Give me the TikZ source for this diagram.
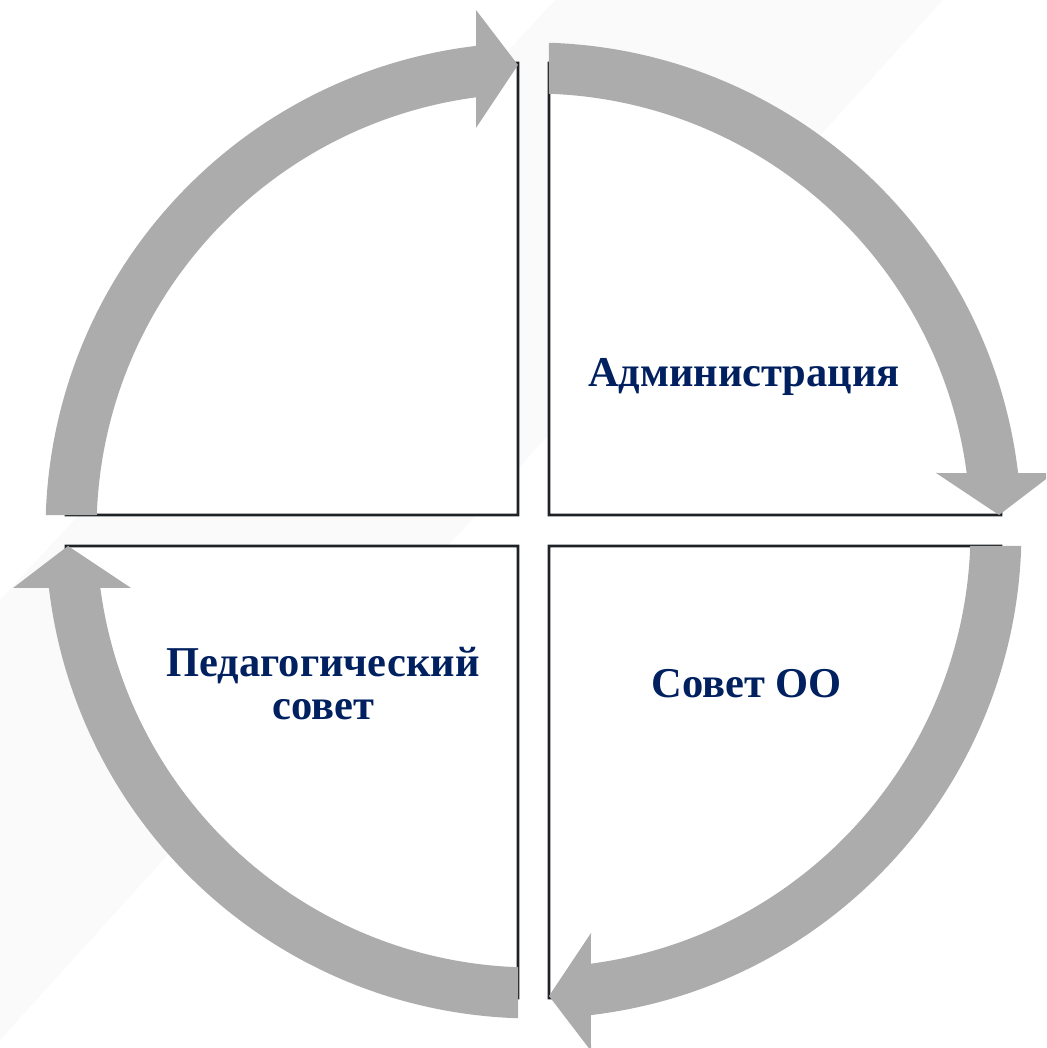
\documentclass[tikz,border=0pt]{standalone}
\usepackage{fontspec}
\setmainfont{Liberation Serif}
\definecolor{arrowgray}{RGB}{171,172,171}
\definecolor{navytext}{RGB}{0,32,96}
\definecolor{edgecol}{RGB}{30,33,37}
\definecolor{bandcol}{RGB}{250,250,250}
\tikzset{
  sector/.style={fill=white, draw=edgecol, line width=2.8pt, line join=miter},
  cyclearrow/.style={fill=arrowgray, draw=none},
  lbl/.style={font=\fontsize{42.5}{43}\selectfont\bfseries, text=navytext, inner sep=0pt, anchor=base}
}
\begin{document}
\begin{tikzpicture}[x=1pt, y=1pt]
\useasboundingbox (0,0) rectangle (1046,1048);
\clip (0,0) rectangle (1046,1048);
% faint diagonal background band
\fill[bandcol] (0,448) -- (555,1048) -- (943,1048) -- (0,8) -- cycle;
% centre and sector apexes
\coordinate (C) at (533.5,517.5);
\coordinate (TL) at (518,533);
\coordinate (TR) at (549,533);
\coordinate (BR) at (549,502);
\coordinate (BL) at (518,502);
% quarter sectors
\draw[sector] (TL) -- ++(0,452) arc[start angle=90, end angle=180, radius=452] -- cycle;
\draw[sector] (TR) -- ++(452,0) arc[start angle=0, end angle=90, radius=452] -- cycle;
\draw[sector] (BR) -- ++(0,-452) arc[start angle=270, end angle=360, radius=452] -- cycle;
\draw[sector] (BL) -- ++(-452,0) arc[start angle=180, end angle=270, radius=452] -- cycle;
% four curved arrows (clockwise)
\foreach \i in {0,1,2,3}{
  \path[cyclearrow, shift={(C)}, rotate=-90*\i]
    (178.18:488) arc[start angle=178.18, end angle=96.76, radius=488]
    -- (-57.5,520.5) -- (-15.5,465.5) -- (-57.5,402.5)
    -- (97.54:437) arc[start angle=97.54, end angle=177.97, radius=437]
    -- cycle;
}
% labels
\node[lbl] (adm) at (744,661) {Администрация};
\node[lbl] (ped1) at (323,371) {Педагогический};
\node[lbl] (ped2) at (323,328) {совет};
\node[lbl] (sov) at (746.5,350) {Совет ОО};
\end{tikzpicture}
\end{document}
